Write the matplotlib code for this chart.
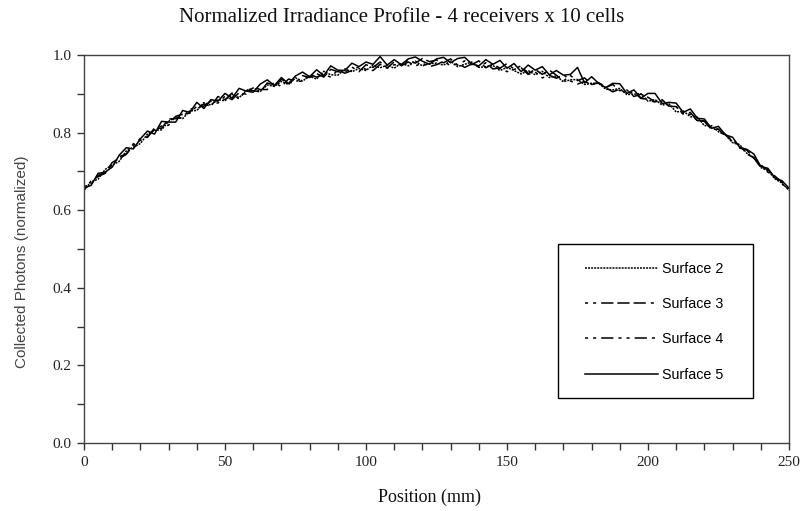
import numpy as np
import matplotlib
matplotlib.use("Agg")
import matplotlib.pyplot as plt
from matplotlib.ticker import MultipleLocator, FormatStrFormatter
from matplotlib.patches import Rectangle

title = "Normalized Irradiance Profile - 4 receivers x 10 cells"
xlabel = "Position (mm)"
ylabel = "Collected Photons (normalized)"
labels = ["Surface 2", "Surface 3", "Surface 4", "Surface 5"]

surface2 = [.651,.673,.680,.705,.716,.726,.753,.762,.772,.796,
            .806,.807,.829,.840,.836,.856,.857,.877,.871,.885,
            .882,.899,.890,.908,.915,.906,.923,.919,.932,.924,
            .941,.933,.945,.938,.958,.949,.948,.964,.957,.965,
            .960,.974,.967,.974,.966,.979,.972,.984,.972,.978,
            .979,
            .974,.984,.970,.976,.982,.968,.970,.973,.960,.968,
            .960,.951,.960,.949,.958,.942,.946,.931,.936,.937,
            .924,.927,.927,.912,.910,.914,.898,.899,.900,.881,
            .885,.871,.874,.853,.856,.841,.840,.818,.818,.802,
            .794,.774,.769,.747,.736,.710,.702,.681,.670,.651]

surface3 = [.661,.667,.690,.696,.723,.733,.744,.771,.780,.788,
            .812,.811,.835,.836,.839,.861,.860,.874,.868,.893,
            .885,.902,.886,.910,.908,.905,.928,.921,.937,.929,
            .929,.947,.942,.952,.943,.963,.957,.955,.969,.957,
            .975,.968,.982,.967,.982,.973,.987,.979,.991,.983,
            .987,
            .980,.990,.974,.985,.975,.985,.967,.977,.966,.978,
            .964,.972,.952,.963,.950,.961,.948,.933,.947,.934,
            .941,.924,.929,.916,.924,.908,.910,.893,.899,.891,
            .879,.885,.868,.867,.848,.852,.831,.829,.808,.809,
            .790,.783,.760,.755,.735,.711,.705,.685,.667,.657]

surface4 = [.653,.675,.687,.695,.718,.738,.745,.766,.785,.789,
            .808,.817,.819,.842,.847,.850,.868,.868,.881,.876,
            .894,.885,.903,.899,.917,.911,.911,.930,.918,.938,
            .933,.932,.950,.943,.950,.943,.961,.953,.960,.970,
            .963,.960,.976,.966,.975,.972,.982,.972,.979,.970,
            .975,
            .984,.972,.978,.968,.977,.969,.980,.964,.967,.957,
            .963,.967,.950,.956,.941,.948,.940,.950,.933,.925,
            .932,.923,.930,.916,.905,.912,.900,.904,.888,.886,
            .878,.881,.868,.867,.847,.847,.831,.830,.813,.808,
            .795,.776,.768,.745,.735,.718,.698,.688,.672,.653]

surface5 = [.657,.664,.695,.698,.711,.742,.761,.758,.784,.804,
            .796,.829,.827,.827,.857,.852,.878,.862,.885,.881,
            .901,.889,.914,.907,.904,.925,.936,.921,.942,.926,
            .946,.956,.944,.962,.947,.972,.961,.960,.979,.970,
            .982,.976,.996,.974,.988,.975,.990,.995,.984,.976,
            .990,
            .994,.980,.991,.994,.977,.972,.988,.976,.986,.966,
            .978,.957,.974,.961,.970,.949,.960,.948,.950,.968,
            .928,.944,.927,.916,.927,.926,.901,.910,.889,.901,
            .901,.875,.878,.876,.852,.861,.837,.835,.811,.816,
            .794,.788,.762,.757,.745,.713,.708,.683,.676,.657]

series = [surface2, surface3, surface4, surface5]
x_start, x_end = 0, 250
x = np.linspace(x_start, x_end, len(surface5))

styles = [(0, (1.3, 0.7)),
          (0, (2, 3.3, 2, 3.3, 8, 2.6, 8, 2.6, 8, 3.3)),
          (0, (2, 3.3, 2, 3.3, 8, 3.3)),
          "-"]

fig = plt.figure(figsize=(8.03, 5.11), dpi=100)
ax = fig.add_axes([84/803, 1-443/511, (789-84)/803, (443-55)/511])

for s, ls, lab in zip(series, styles, labels):
    ax.plot(x, s, color="black", linestyle=ls, linewidth=1.1, label=lab)

ax.set_xlim(0, 250)
ax.set_ylim(0, 1.0)
ax.xaxis.set_major_locator(MultipleLocator(50))
ax.xaxis.set_minor_locator(MultipleLocator(10))
ax.yaxis.set_major_locator(MultipleLocator(0.2))
ax.yaxis.set_minor_locator(MultipleLocator(0.1))
ax.yaxis.set_major_formatter(FormatStrFormatter("%.1f"))
ax.tick_params(which="both", direction="out", top=False, right=False,
               color="#333333", width=1.0, length=5, pad=4)
for lab in ax.get_xticklabels() + ax.get_yticklabels():
    lab.set_fontfamily("Liberation Serif")
    lab.set_fontsize(11)
    lab.set_color("#222222")
for sp in ax.spines.values():
    sp.set_color("#444444")
    sp.set_linewidth(1.0)

fig.text(0.5, 1-17/511, title, ha="center", va="center",
         family="Liberation Serif", fontsize=15, color="#111111")
fig.text(430/803, 1-497/511, xlabel, ha="center", va="center",
         family="Liberation Serif", fontsize=13, color="#111111")
fig.text(22/803, 1-262/511, ylabel, ha="center", va="center", rotation=90,
         family="Liberation Sans", fontsize=11, color="#444444")

frame = Rectangle(((558-84)/705, (443-398)/388), (753-558)/705, (398-244)/388,
                  transform=ax.transAxes, facecolor="white", edgecolor="black",
                  linewidth=1.0, zorder=4)
ax.add_patch(frame)

leg = ax.legend(loc="upper left",
                bbox_to_anchor=((585-84)/705, (443-262)/388),
                frameon=False, borderpad=0.0,
                labelspacing=1.48, handlelength=5.1, handletextpad=0.28,
                borderaxespad=0.0,
                prop={"family": "Liberation Sans", "size": 10.3})
leg.set_zorder(5)

fig.savefig("out.png", dpi=100)
